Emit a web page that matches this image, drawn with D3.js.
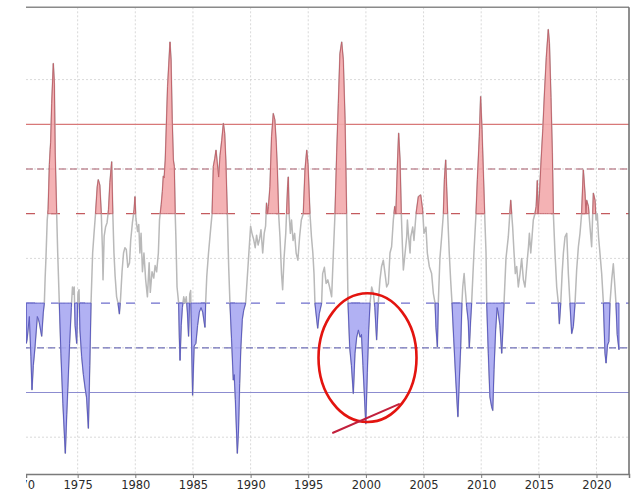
<!DOCTYPE html>
<html><head><meta charset="utf-8">
<script src="https://cdn.jsdelivr.net/npm/d3@7"></script>
<style>html,body{margin:0;padding:0;background:#fff;}svg{display:block;}</style>
</head><body>
<svg id="chart" width="634" height="492"></svg>
<script>
// ---- data (decimal year, index value) ----
const times = [1970.55,1970.62,1970.81,1970.95,1971.04,1971.15,1971.30,1971.50,1971.60,1971.68,1971.88,1972.02,1972.11,1972.18,1972.25,1972.36,1972.44,1972.55,1972.62,1972.66,1972.75,1972.89,1972.98,1973.05,1973.18,1973.27,1973.41,1973.55,1973.72,1973.93,1974.05,1974.15,1974.30,1974.45,1974.55,1974.62,1974.70,1974.78,1974.92,1975.02,1975.12,1975.20,1975.35,1975.50,1975.65,1975.78,1975.93,1976.05,1976.16,1976.30,1976.42,1976.55,1976.70,1976.79,1976.92,1977.05,1977.15,1977.20,1977.30,1977.42,1977.55,1977.68,1977.80,1977.95,1978.05,1978.15,1978.25,1978.38,1978.50,1978.62,1978.72,1978.85,1978.98,1979.10,1979.22,1979.35,1979.50,1979.60,1979.75,1979.90,1979.97,1980.05,1980.20,1980.30,1980.40,1980.50,1980.62,1980.75,1980.90,1981.05,1981.20,1981.30,1981.45,1981.60,1981.72,1981.85,1982.00,1982.10,1982.25,1982.35,1982.43,1982.50,1982.60,1982.80,1983.01,1983.10,1983.20,1983.30,1983.38,1983.46,1983.52,1983.62,1983.76,1983.82,1983.88,1983.98,1984.08,1984.20,1984.32,1984.42,1984.52,1984.62,1984.72,1984.80,1984.97,1985.10,1985.25,1985.40,1985.55,1985.70,1985.85,1986.04,1986.10,1986.20,1986.35,1986.55,1986.66,1986.77,1986.90,1987.00,1987.10,1987.23,1987.35,1987.50,1987.64,1987.75,1987.85,1987.98,1988.10,1988.21,1988.35,1988.50,1988.58,1988.68,1988.85,1988.95,1989.05,1989.15,1989.28,1989.40,1989.57,1989.66,1989.85,1990.00,1990.12,1990.25,1990.40,1990.52,1990.65,1990.78,1990.90,1991.05,1991.18,1991.30,1991.38,1991.48,1991.55,1991.68,1991.82,1991.97,1992.10,1992.22,1992.32,1992.43,1992.55,1992.68,1992.78,1992.90,1993.05,1993.21,1993.27,1993.34,1993.45,1993.55,1993.68,1993.82,1993.95,1994.10,1994.25,1994.40,1994.57,1994.72,1994.87,1994.98,1995.15,1995.28,1995.40,1995.50,1995.58,1995.82,1995.95,1996.16,1996.25,1996.40,1996.55,1996.70,1996.85,1997.03,1997.18,1997.32,1997.47,1997.61,1997.75,1997.90,1998.04,1998.19,1998.33,1998.45,1998.60,1998.75,1998.91,1999.05,1999.20,1999.35,1999.50,1999.62,1999.75,1999.88,1999.99,2000.12,2000.24,2000.36,2000.50,2000.65,2000.78,2000.93,2001.07,2001.22,2001.36,2001.51,2001.66,2001.80,2001.95,2002.09,2002.23,2002.38,2002.50,2002.60,2002.72,2002.84,2002.96,2003.07,2003.19,2003.25,2003.40,2003.54,2003.60,2003.68,2003.83,2003.89,2004.06,2004.17,2004.35,2004.55,2004.75,2004.92,2005.04,2005.21,2005.33,2005.50,2005.70,2005.85,2006.00,2006.08,2006.20,2006.28,2006.42,2006.57,2006.72,2006.81,2006.92,2007.00,2007.09,2007.23,2007.35,2007.47,2007.62,2007.80,2007.98,2008.10,2008.22,2008.33,2008.40,2008.52,2008.62,2008.75,2008.88,2008.97,2009.08,2009.17,2009.37,2009.55,2009.67,2009.84,2009.95,2010.07,2010.18,2010.30,2010.42,2010.48,2010.62,2010.76,2010.91,2011.00,2011.11,2011.25,2011.38,2011.47,2011.63,2011.78,2011.88,2011.98,2012.15,2012.35,2012.56,2012.73,2012.85,2012.96,2013.08,2013.22,2013.37,2013.51,2013.66,2013.80,2013.95,2014.10,2014.18,2014.30,2014.41,2014.52,2014.66,2014.77,2014.87,2014.93,2015.06,2015.20,2015.35,2015.49,2015.65,2015.82,2015.92,2016.05,2016.17,2016.26,2016.40,2016.55,2016.69,2016.78,2016.90,2017.02,2017.13,2017.27,2017.42,2017.56,2017.70,2017.85,2017.99,2018.14,2018.28,2018.43,2018.57,2018.71,2018.86,2019.00,2019.09,2019.15,2019.30,2019.44,2019.58,2019.73,2019.87,2019.96,2020.07,2020.18,2020.30,2020.45,2020.60,2020.74,2020.83,2020.95,2021.07,2021.17,2021.32,2021.46,2021.60,2021.69,2021.80,2021.95];
const values = [-0.95,-0.90,-0.65,-1.10,-1.47,-1.20,-0.99,-0.65,-0.68,-0.72,-0.87,-0.60,-0.50,-0.22,0.00,0.43,0.55,1.05,1.22,1.30,1.73,2.18,1.95,1.18,0.50,0.06,-0.50,-1.06,-1.62,-2.18,-1.75,-1.44,-0.95,-0.55,-0.32,-0.40,-0.32,-0.75,-0.95,-0.40,-0.35,-0.80,-1.10,-1.30,-1.45,-1.56,-1.90,-1.20,-0.50,0.06,0.28,0.50,0.80,0.88,0.82,0.50,0.10,-0.24,0.25,0.35,0.40,0.55,0.85,1.08,0.50,0.06,-0.20,-0.43,-0.50,-0.62,-0.45,-0.15,0.06,0.12,0.10,-0.10,-0.05,0.20,0.40,0.55,0.69,0.45,0.30,0.38,0.06,0.28,-0.15,0.06,-0.24,-0.43,-0.05,-0.38,-0.15,-0.22,-0.08,-0.15,0.06,0.43,0.60,0.75,0.92,0.90,1.10,1.92,2.42,2.22,1.55,1.10,1.03,0.50,0.24,-0.32,-0.50,-0.88,-1.14,-0.75,-0.55,-0.43,-0.50,-0.43,-0.60,-0.87,-0.40,-0.36,-1.53,-0.98,-0.95,-0.75,-0.60,-0.55,-0.60,-0.77,-0.50,-0.20,0.06,0.35,0.50,1.03,1.12,1.21,1.08,0.91,1.15,1.32,1.51,1.40,1.10,0.50,-0.10,-0.50,-0.90,-1.36,-1.30,-1.58,-2.18,-1.92,-1.40,-1.00,-0.68,-0.58,-0.50,-0.32,0.06,0.36,0.28,0.22,0.12,0.26,0.15,0.22,0.32,0.06,0.28,0.36,0.62,0.50,0.58,0.80,1.36,1.62,1.55,1.30,0.99,0.50,0.24,-0.17,-0.35,0.00,0.28,0.80,0.91,0.50,0.28,0.43,0.20,0.28,0.06,-0.02,0.24,0.43,0.50,0.99,1.21,1.05,0.50,0.24,0.06,-0.17,-0.50,-0.78,-0.62,-0.50,-0.17,-0.10,-0.28,-0.24,-0.32,-0.43,0.06,0.50,1.18,1.73,2.29,2.42,2.22,1.55,0.50,-0.50,-1.00,-1.20,-1.51,-1.06,-0.88,-0.80,-0.88,-0.85,-1.20,-1.55,-1.85,-1.28,-0.80,-0.50,-0.32,-0.39,-0.55,-0.91,-0.50,-0.24,-0.09,-0.02,-0.17,-0.32,-0.28,0.06,0.13,0.43,0.58,0.50,0.99,1.40,1.10,0.50,0.06,-0.13,0.06,0.24,0.43,0.28,0.06,0.24,0.35,0.20,0.50,0.69,0.71,0.54,0.28,0.35,0.06,-0.09,-0.17,-0.39,-0.50,-0.77,-0.99,-0.50,0.00,0.24,0.50,0.88,1.10,0.80,0.50,0.06,-0.24,-0.50,-0.90,-1.36,-1.77,-1.36,-0.99,-0.50,-0.32,-0.17,-0.35,-0.55,-0.70,-1.00,-0.70,-0.50,0.06,0.50,0.88,1.36,1.81,1.44,0.99,0.50,0.06,-0.50,-1.06,-1.55,-1.66,-1.70,-1.24,-0.80,-0.55,-0.60,-0.75,-1.06,-0.80,-0.50,0.00,0.24,0.65,0.35,0.06,-0.17,-0.09,-0.32,-0.17,0.00,-0.24,-0.32,-0.09,0.13,0.28,0.06,0.24,0.43,0.50,0.58,0.87,0.50,0.73,1.10,1.45,1.85,2.25,2.56,2.40,1.80,1.18,0.50,0.06,-0.32,-0.50,-0.73,-0.50,-0.17,0.06,0.24,0.28,-0.17,-0.50,-0.84,-0.76,-0.50,-0.13,0.13,0.28,0.50,0.99,0.73,0.50,0.65,0.58,0.35,0.13,0.73,0.65,0.43,0.50,0.24,0.06,-0.17,-0.50,-1.06,-1.17,-0.97,-0.93,-0.50,-0.24,-0.06,-0.32,-0.50,-0.85,-1.02];
const xTicks = [1970,1975,1980,1985,1990,1995,2000,2005,2010,2015,2020];
const yGrid = [-2,-1,0,1,2];
const warmLevels = [0.5, 1.0, 1.5];
const coldLevels = [-0.5, -1.0, -1.5];
// annotation (data units): ellipse centre, radii, and pointer line
const ellipseCenter = [2000.14, -1.11];
const ellipseRadii = [4.25, 0.72];
const pointerTimes = [1997.15, 2002.87];
const pointerValues = [-1.95, -1.63];

// ---- scales ----
const svg = d3.select("#chart");
const x = d3.scaleLinear().domain([1970.52, 2022.82]).range([26, 629]);
const y = d3.scaleLinear().domain([-2.4116, 2.8087]).range([474, 7.3]);

const data = times.map((t, i) => ({t, v: values[i]}));

svg.append("defs").append("clipPath").attr("id", "leftcut")
  .append("rect").attr("x", 26).attr("y", 0).attr("width", 634 - 26).attr("height", 492);

const root = svg.append("g").attr("clip-path", "url(#leftcut)");

// grid
root.append("g").selectAll("line").data(xTicks).join("line")
  .attr("x1", d => x(d)).attr("x2", d => x(d)).attr("y1", y.range()[1]).attr("y2", y.range()[0])
  .attr("stroke", "#cfcfcf").attr("stroke-width", 0.8).attr("stroke-dasharray", "2,2");
root.append("g").selectAll("line").data(yGrid).join("line")
  .attr("x1", x.range()[0]).attr("x2", x.range()[1]).attr("y1", d => y(d)).attr("y2", d => y(d))
  .attr("stroke", "#cfcfcf").attr("stroke-width", 0.8).attr("stroke-dasharray", "2,2");

// threshold lines
const lineStyle = {
  "0.5": {c: "#c45a5e", dash: "9,16", w: 1.2},
  "1": {c: "#a85a6a", dash: "7,4", w: 1.2},
  "1.5": {c: "#d87878", dash: null, w: 1.2},
  "-0.5": {c: "#6e6ecc", dash: "9,16", w: 1.2},
  "-1": {c: "#7070b8", dash: "7,4", w: 1.2},
  "-1.5": {c: "#8c8cd0", dash: null, w: 1.2}
};
root.append("g").selectAll("line").data(warmLevels.concat(coldLevels)).join("line")
  .attr("x1", x.range()[0]).attr("x2", x.range()[1]).attr("y1", d => y(d)).attr("y2", d => y(d))
  .attr("stroke", d => lineStyle[String(d)].c).attr("stroke-width", d => lineStyle[String(d)].w)
  .attr("stroke-dasharray", d => lineStyle[String(d)].dash);

// build runs above/below a threshold, with crossing points inserted
function runs(th, above) {
  const out = []; let cur = null;
  const inside = v => above ? v >= th : v <= th;
  for (let i = 0; i < data.length; i++) {
    const d = data[i];
    if (i > 0) {
      const p = data[i - 1];
      if (inside(p.v) !== inside(d.v) && p.v !== th && d.v !== th) {
        const f = (th - p.v) / (d.v - p.v);
        const c = {t: p.t + f * (d.t - p.t), v: th};
        if (cur) { cur.push(c); out.push(cur); cur = null; }
        else { cur = [c]; }
      }
    }
    if (inside(d.v)) { if (!cur) cur = []; cur.push(d); }
    else if (cur) { out.push(cur); cur = null; }
  }
  if (cur) out.push(cur);
  return out.filter(r => r.length > 1);
}

const line = d3.line().x(d => x(d.t)).y(d => y(d.v));

// gray base line
root.append("path").datum(data).attr("d", line)
  .attr("fill", "none").attr("stroke", "#b9b9b9").attr("stroke-width", 1.5).attr("stroke-linejoin", "round");

// warm fill
const areaWarm = d3.area().x(d => x(d.t)).y0(y(0.5)).y1(d => y(d.v));
root.append("g").selectAll("path").data(runs(0.5, true)).join("path")
  .attr("d", areaWarm).attr("fill", "#f3aaac").attr("fill-opacity", 0.9)
  .attr("stroke", "#c0646c").attr("stroke-width", 1).attr("stroke-linejoin", "round");

// cold fill
const areaCold = d3.area().x(d => x(d.t)).y0(y(-0.5)).y1(d => y(d.v));
root.append("g").selectAll("path").data(runs(-0.5, false)).join("path")
  .attr("d", areaCold).attr("fill", "#a9a9f2").attr("fill-opacity", 0.9)
  .attr("stroke", "#5c5cc0").attr("stroke-width", 1).attr("stroke-linejoin", "round");

// frame
root.append("line").attr("x1", x.range()[0]).attr("x2", x.range()[1]).attr("y1", y.range()[1]).attr("y2", y.range()[1])
  .attr("stroke", "#8a8a8a").attr("stroke-width", 1.5);
root.append("line").attr("x1", x.range()[1]).attr("x2", x.range()[1]).attr("y1", y.range()[1]).attr("y2", y.range()[0])
  .attr("stroke", "#6a6a6a").attr("stroke-width", 1.5);

// x axis
const ax = root.append("g").attr("transform", `translate(0,${y.range()[0]})`)
  .call(d3.axisBottom(x).tickValues(xTicks).tickFormat(d3.format("d")).tickSize(4).tickPadding(3));
ax.select(".domain").attr("stroke", "#7a7a7a").attr("stroke-width", 1.5);
ax.selectAll(".tick line").attr("stroke", "#7a7a7a");
ax.selectAll(".tick text").attr("fill", "#2a2a2a").style("font-family", "DejaVu Sans, sans-serif").style("font-size", "11.5px");

// annotation
svg.append("ellipse")
  .attr("cx", x(ellipseCenter[0])).attr("cy", y(ellipseCenter[1]))
  .attr("rx", x(ellipseCenter[0] + ellipseRadii[0]) - x(ellipseCenter[0]))
  .attr("ry", y(ellipseCenter[1] - ellipseRadii[1]) - y(ellipseCenter[1]))
  .attr("fill", "none").attr("stroke", "#e3140f").attr("stroke-width", 2.6);
const pointer = pointerTimes.map((t, i) => ({t, v: pointerValues[i]}));
svg.append("path").datum(pointer).attr("d", line)
  .attr("fill", "none").attr("stroke", "#c2203c").attr("stroke-width", 2).attr("stroke-linecap", "round");
</script>
</body></html>
